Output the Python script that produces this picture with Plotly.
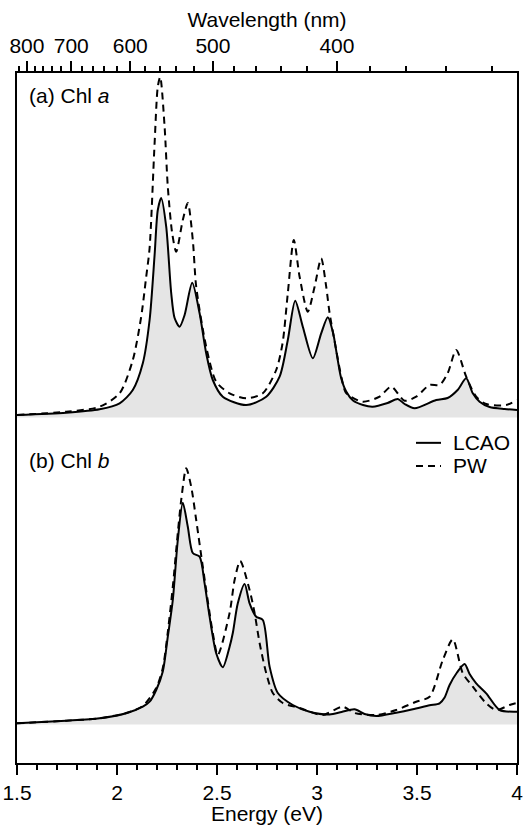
import plotly.graph_objects as go

# ---------------- data ----------------
# Panel (a) Chl a : LCAO (solid) and PW (dashed); intensity in arb. units
ea_lcao = [1.50, 1.746, 1.913, 2.013, 2.079, 2.129, 2.163, 2.188, 2.204, 2.221,
           2.246, 2.271, 2.288, 2.313, 2.338, 2.376, 2.413, 2.446, 2.479, 2.529,
           2.646, 2.746, 2.813, 2.854, 2.891, 2.929, 2.979, 3.021, 3.054, 3.08,
           3.10, 3.12, 3.146, 3.18, 3.23, 3.278, 3.353, 3.404, 3.438, 3.488,
           3.596, 3.653, 3.703, 3.746, 3.778, 3.813, 3.863, 3.938, 4.00]
ia_lcao = [0.025, 0.048, 0.082, 0.142, 0.275, 0.542, 0.975, 1.625, 2.075, 2.195,
           1.908, 1.245, 0.995, 0.908, 1.025, 1.348, 1.042, 0.642, 0.375, 0.208,
           0.125, 0.208, 0.408, 0.775, 1.168, 0.908, 0.592, 0.842, 1.002, 0.85,
           0.62, 0.40, 0.26, 0.17, 0.125, 0.108, 0.145, 0.185, 0.135, 0.092,
           0.175, 0.195, 0.275, 0.392, 0.245, 0.158, 0.105, 0.085, 0.075]

ea_pw = [1.50, 1.746, 1.913, 2.013, 2.079, 2.121, 2.146, 2.163, 2.188, 2.204,
         2.216, 2.238, 2.254, 2.276, 2.296, 2.329, 2.354, 2.379, 2.396, 2.446,
         2.496, 2.563, 2.646, 2.729, 2.796, 2.828, 2.854, 2.884, 2.913, 2.954,
         2.988, 3.021, 3.046, 3.063, 3.096, 3.123, 3.146, 3.228, 3.313, 3.371,
         3.438, 3.496, 3.563, 3.613, 3.654, 3.696, 3.746, 3.796, 3.846, 3.946,
         4.00]
ia_pw = [0.025, 0.058, 0.108, 0.242, 0.575, 1.008, 1.408, 1.695, 2.742, 3.308,
         3.405, 2.908, 2.308, 1.842, 1.658, 1.975, 2.145, 1.775, 1.308, 0.708,
         0.358, 0.242, 0.192, 0.242, 0.475, 0.745, 1.242, 1.775, 1.408, 1.058,
         1.308, 1.592, 1.308, 1.045, 0.675, 0.395, 0.245, 0.158, 0.208, 0.308,
         0.168, 0.208, 0.325, 0.325, 0.445, 0.675, 0.408, 0.208, 0.135, 0.125,
         0.175]

# Panel (b) Chl b
eb_lcao = [1.50, 1.746, 1.913, 2.046, 2.129, 2.163, 2.196, 2.229, 2.254, 2.279,
           2.304, 2.329, 2.354, 2.379, 2.413, 2.438, 2.463, 2.496, 2.529, 2.563,
           2.579, 2.604, 2.638, 2.663, 2.696, 2.729, 2.763, 2.804, 2.879, 2.963,
           3.063, 3.123, 3.188, 3.238, 3.296, 3.396, 3.479, 3.563, 3.613, 3.638,
           3.663, 3.70, 3.738, 3.763, 3.796, 3.846, 3.913, 4.00]
ib_lcao = [0.012, 0.038, 0.062, 0.112, 0.178, 0.228, 0.345, 0.53, 0.878, 1.245,
           1.845, 2.218, 1.978, 1.715, 1.678, 1.412, 1.078, 0.712, 0.572, 0.778,
           0.915, 1.212, 1.405, 1.212, 1.078, 1.045, 0.578, 0.315, 0.195, 0.128,
           0.10, 0.125, 0.152, 0.105, 0.085, 0.118, 0.152, 0.192, 0.212, 0.27,
           0.395, 0.52, 0.605, 0.505, 0.412, 0.312, 0.145, 0.128]

eb_pw = [1.50, 1.746, 1.913, 2.046, 2.129, 2.196, 2.229, 2.254, 2.279, 2.304,
         2.321, 2.346, 2.371, 2.396, 2.429, 2.479, 2.504, 2.563, 2.588, 2.616,
         2.663, 2.688, 2.713, 2.746, 2.779, 2.829, 2.913, 3.028, 3.128, 3.188,
         3.296, 3.396, 3.496, 3.563, 3.629, 3.679, 3.729, 3.779, 3.846, 3.896,
         3.963, 4.00]
ib_pw = [0.012, 0.038, 0.062, 0.115, 0.185, 0.365, 0.565, 0.925, 1.378, 1.915,
         2.245, 2.562, 2.378, 2.045, 1.578, 0.915, 0.695, 1.115, 1.445, 1.635,
         1.345, 1.115, 0.815, 0.515, 0.315, 0.215, 0.165, 0.095, 0.178, 0.115,
         0.095, 0.145, 0.228, 0.278, 0.645, 0.852, 0.512, 0.378, 0.212, 0.145,
         0.195, 0.215]

# axes / labels
energy_ticks = [1.5, 2.0, 2.5, 3.0, 3.5, 4.0]
energy_labels = ["1.5", "2", "2.5", "3", "3.5", "4"]
wl_major = [800, 700, 600, 500, 400]
wl_minor = [820, 780, 760, 740, 720, 680, 660, 640, 620, 580, 560, 540, 520,
            480, 460, 440, 420, 380, 360, 340, 320]
HC = 1239.84  # eV nm
offset_a = 3.07   # vertical offset of panel (a)
offset_b = 0.0
series_names = ["LCAO", "PW"]

FONT = "Liberation Sans, Arial, Helvetica, sans-serif"
FS = 21
GRAY = "#e5e5e5"
LW = 2
DASH = "7px,5px"
SM = 0.75

fig = go.Figure()

def add_panel(e_l, i_l, e_p, i_p, off):
    # baseline for fill
    fig.add_trace(go.Scatter(x=[energy_ticks[0], energy_ticks[-1]], y=[off, off],
                             mode="lines", line=dict(width=0, color="rgba(0,0,0,0)"),
                             showlegend=False, hoverinfo="skip"))
    fig.add_trace(go.Scatter(x=e_l, y=[v + off for v in i_l], mode="lines",
                             line=dict(width=0, shape="spline", smoothing=SM),
                             fill="tonexty", fillcolor=GRAY,
                             showlegend=False, hoverinfo="skip"))
    fig.add_trace(go.Scatter(x=e_p, y=[v + off for v in i_p], mode="lines",
                             name=series_names[1],
                             line=dict(width=LW, color="black", dash=DASH,
                                       shape="spline", smoothing=SM),
                             showlegend=False))
    fig.add_trace(go.Scatter(x=e_l, y=[v + off for v in i_l], mode="lines",
                             name=series_names[0],
                             line=dict(width=LW, color="black",
                                       shape="spline", smoothing=SM),
                             showlegend=False))

add_panel(ea_lcao, ia_lcao, ea_pw, ia_pw, offset_a)
add_panel(eb_lcao, ib_lcao, eb_pw, ib_pw, offset_b)

# dummy trace so the top (wavelength) axis is drawn
fig.add_trace(go.Scatter(x=[1.5, 4.0], y=[offset_b, offset_b], xaxis="x2", mode="lines",
                         line=dict(width=0, color="rgba(0,0,0,0)"),
                         showlegend=False, hoverinfo="skip"))

# legend (drawn as key lines + labels, matching the compact original key)
legend_shapes = []
legend_annots = []
for k, (name, dash) in enumerate(zip(series_names, ["solid", DASH])):
    yk = 0.464 - k * 0.0335
    legend_shapes.append(dict(type="line", xref="paper", yref="paper",
                              x0=0.798, x1=0.848, y0=yk, y1=yk,
                              line=dict(color="black", width=LW, dash=dash)))
    legend_annots.append(dict(text=name, xref="paper", yref="paper", x=0.868, y=yk,
                              xanchor="left", yanchor="middle", showarrow=False,
                              font=dict(size=FS)))

fig.update_layout(
    width=527, height=825,
    margin=dict(l=17, r=10, t=73, b=62),
    paper_bgcolor="white", plot_bgcolor="white",
    font=dict(family=FONT, size=FS, color="black"),
    showlegend=False,
    hovermode=False,
    xaxis=dict(range=[1.5, 4.0], showline=True, linewidth=LW, linecolor="black",
               automargin=False, mirror=False, ticklabeloverflow="allow",
               ticks="outside", ticklen=10, tickwidth=1.5, tickcolor="black",
               tickvals=energy_ticks, ticktext=energy_labels,
               minor=dict(dtick=0.1, tick0=1.5, ticks="outside", ticklen=5, tickwidth=1.5,
                          tickcolor="black", showgrid=False),
               showgrid=False, zeroline=False,
               title=dict(text="Energy (eV)", standoff=2, font=dict(size=FS))),
    xaxis2=dict(range=[1.5, 4.0], overlaying="x", side="top", anchor="y",
                automargin=False, ticklabeloverflow="allow",
                showline=True, linewidth=LW, linecolor="black",
                ticks="outside", ticklen=10, tickwidth=1.5, tickcolor="black",
                tickmode="array", tickvals=[HC / w for w in wl_major],
                ticktext=[str(w) for w in wl_major],
                minor=dict(tickmode="array", tickvals=[HC / w for w in wl_minor],
                           ticks="outside", ticklen=5, tickwidth=1.5, tickcolor="black",
                           showgrid=False),
                showgrid=False, zeroline=False,
                title=dict(text="Wavelength (nm)", standoff=0, font=dict(size=FS))),
    yaxis=dict(range=[-0.385, 6.515], showline=True, linewidth=LW, linecolor="black",
               automargin=False,
               mirror=True, ticks="", showticklabels=False, showgrid=False, zeroline=False),
    shapes=legend_shapes,
    annotations=[
        dict(text="(a) Chl <i>a</i>", xref="paper", yref="paper", x=0.02, y=0.968,
             xanchor="left", yanchor="middle", showarrow=False, font=dict(size=FS)),
        dict(text="(b) Chl <i>b</i>", xref="paper", yref="paper", x=0.02, y=0.439,
             xanchor="left", yanchor="middle", showarrow=False, font=dict(size=FS)),
    ] + legend_annots,
)

# remove the browser's default 8 px body margin so the figure fills the window exactly
fig.write_html("out.html",
               config={"displayModeBar": False},
               post_script="document.body.style.margin='0';"
                           "document.documentElement.style.overflow='hidden';")
